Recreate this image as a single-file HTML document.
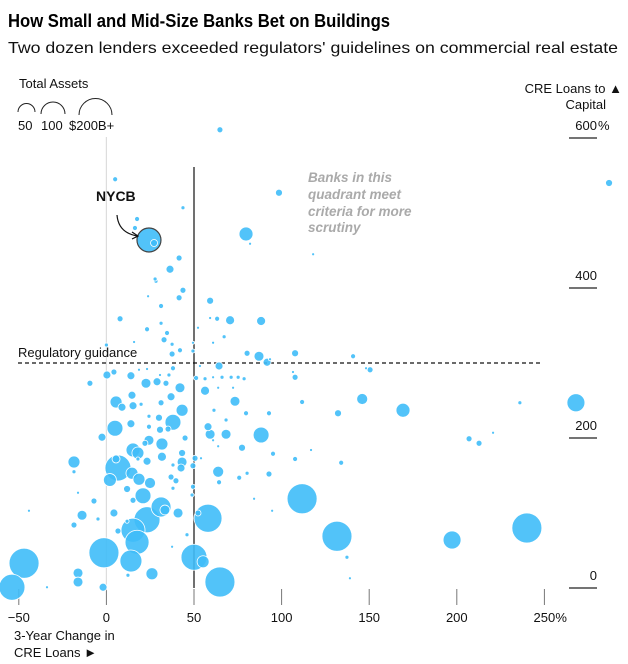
<!DOCTYPE html>
<html><head><meta charset="utf-8"><style>
html,body{margin:0;padding:0;background:#fff;width:628px;height:664px;overflow:hidden}
svg{display:block;font-family:"Liberation Sans",sans-serif}
</style></head><body>
<svg id="chart" width="628" height="664" viewBox="0 0 628 664">
<text x="8" y="27" font-size="18" font-weight="bold" fill="#000" textLength="382" lengthAdjust="spacingAndGlyphs">How Small and Mid-Size Banks Bet on Buildings</text>
<text x="8" y="53" font-size="16" fill="#111" textLength="610" lengthAdjust="spacingAndGlyphs">Two dozen lenders exceeded regulators' guidelines on commercial real estate</text>
<g>
<text x="19" y="88" font-size="13" fill="#111">Total Assets</text>
<path d="M18,112 A8.5,8.5 0 0 1 35,112" fill="none" stroke="#222" stroke-width="1"/>
<path d="M41,114 A12,12 0 0 1 65,114" fill="none" stroke="#222" stroke-width="1"/>
<path d="M79,115 A16.5,16.5 0 0 1 112,115" fill="none" stroke="#222" stroke-width="1"/>
<text x="18" y="130" font-size="13" fill="#111">50</text>
<text x="41" y="130" font-size="13" fill="#111">100</text>
<text x="69" y="130" font-size="13" fill="#111">$200B+</text>
</g>
<text x="622" y="93" font-size="13" fill="#111" text-anchor="end">CRE Loans to ▲</text>
<text x="606" y="109" font-size="13" fill="#111" text-anchor="end">Capital</text>
<g id="axes"></g>
<g id="marks"></g>
<text x="18" y="357" font-size="13" fill="#111">Regulatory guidance</text>
<g font-size="13.5" font-style="italic" font-weight="bold" fill="#aaa">
<text x="308" y="182">Banks in this</text>
<text x="308" y="199">quadrant meet</text>
<text x="308" y="216">criteria for more</text>
<text x="308" y="232">scrutiny</text>
</g>
<text x="96" y="201" font-size="14" font-weight="bold" fill="#111">NYCB</text>
<path d="M117,215 C118,228 126,234 137,236" fill="none" stroke="#111" stroke-width="1.2"/>
<path d="M132,232 L138,236 L132,239" fill="none" stroke="#111" stroke-width="1.2"/>
<text x="14" y="640" font-size="13" fill="#111">3-Year Change in</text>
<text x="14" y="657" font-size="13" fill="#111">CRE Loans ►</text>
</svg>
<script>
const xChange=[28.3,43.7,23.8,41.5,59.2,31.2,7.8,70.6,88.3,63.2,59.2,31.2,23.2,52.3,34.6,67.2,32.9,15.8,60.9,0,37.5,49.4,42,49.4,37.5,80.3,87.1,91.7,107.7,64.3,38,53.4,0.3,4.3,14,18.6,23.2,30.6,35.7,-9.4,22.6,28.9,34,42,51.2,56.3,60.9,66,71.2,75.2,78.6,107.7,56.3,63.8,72.3,5.5,8.9,14.6,15.2,19.8,31.2,36.9,73.4,43.2,61.4,79.7,92.8,4.9,14,24.3,30,38,24.3,30.6,35.2,58,59.2,68.3,68.3,88.3,-2.5,24.3,31.7,44.9,15.2,18,22,31.7,43.2,60.9,63.8,77.4,95.1,6.6,-18.5,5.5,23.2,18,43.2,50.6,54,38,49.4,107.7,-18.5,2,14.6,18.6,24.9,36.9,39.7,42.6,63.8,80.3,92.8,75.8,64.3,11.8,20.9,38,49.4,-16.2,-7.1,15.2,31.2,33.4,48.9,84.3,-13.9,4.3,-4.8,40.9,52.3,58,94.6,-44.2,-18.5,11.8,23.2,6.6,15.2,17.5,46,37.5,-1.4,14,-47,50,55.2,-16.2,26,12.3,-16.2,64.8,-53.9,-1.9,-33.9,60.9,140.8,93.4,106.5,148.2,150.5,111.7,146,132.2,169.3,236,268,207,212.7,220.7,116.8,134,111.7,131.6,197.3,240,137.3,139,64.8,5,98.5,43.7,17.5,16.3,24.3,27.2,79.7,82,118,41.5,36.3,27.8,286.9];
const creRatio=[409,397,389,387,383,376,359,357,356,359,360,353,345,347,340,335,331,328,328,324,325,327,317,316,312,313,309,301,313,296,293,296,284,288,283,291,292,284,284,273,273,275,273,267,280,279,281,281,281,281,279,281,263,267,267,248,241,257,243,245,247,255,249,237,237,233,233,213,219,229,227,221,215,211,212,215,205,205,224,204,201,197,192,200,184,180,193,175,180,197,189,187,179,160,168,172,169,172,168,173,173,164,163,172,155,144,153,145,140,148,143,160,155,153,152,147,141,132,123,133,135,127,116,117,108,104,124,119,97,100,92,100,100,93,103,103,84,89,91,76,77,61,71,55,47,36,33,41,35,20,19,17,8,8,1,1,1,327,309,305,288,293,291,248,252,233,237,247,247,199,193,207,184,167,119,69,64,80,41,13,611,545,527,507,492,480,464,460,472,459,445,440,425,412,540];
const totalAssets=[2.8,6.2,1.6,6.2,8.5,4.3,6.2,14,14,4.3,1.6,2.8,4.3,1.6,4.3,2.8,6.2,1.6,1.6,2.8,2.8,1.6,4.3,2.8,6.2,6.2,17,11,8.5,11,4.3,1.6,11,6.2,11,1.6,1.6,1.6,2.8,6.2,17,11,6.2,17,4.3,2.8,1.6,2.8,2.8,2.8,2.8,6.2,14,1.6,1.6,25,11,11,11,2.8,6.2,11,17,25,2.8,4.3,4.3,44,11,2.8,8.5,44,4.3,8.5,6.2,11,17,17,2.8,44,11,17,25,6.2,34,25,6.2,14,8.5,1.6,1.6,8.5,4.3,117,25,11,11,2.8,17,6.2,1.6,2.8,6.2,4.3,2.8,29,25,25,21,6.2,6.2,11,21,2.8,6.2,4.3,4.3,8.5,44,2.8,4.3,1.6,6.2,6.2,69,17,2.8,1.6,17,11,2.8,17,6.2,136,1.6,1.6,6.2,2.8,117,6.2,100,100,2.8,1.6,156,84,156,117,25,17,25,2.8,17,156,117,11,1.6,1.6,4.3,1.6,1.6,1.6,6.2,4.3,21,8.5,34,2.8,56,6.2,6.2,1.6,1.6,4.3,156,156,56,156,2.8,1.6,6.2,4.3,8.5,2.8,4.3,4.3,100,8.5,34,1.6,1.6,6.2,11,2.8,8.5];
const nycbIndex=186;
const xTicks=[-50,0,50,100,150,200,250];
const yTicks=[0,200,400,600];
const guidance=300;

const NS="http://www.w3.org/2000/svg";
const xS=v=>106.4+v*1.752;
const yS=v=>588-v*0.75;
const rS=a=>1.2*Math.sqrt(a);
function mk(tag,attrs,parent){const e=document.createElementNS(NS,tag);for(const k in attrs)e.setAttribute(k,attrs[k]);parent.appendChild(e);return e;}
const axes=document.getElementById('axes');
const marks=document.getElementById('marks');

const zl=mk('line',{x1:xS(0),x2:xS(0),y1:137,y2:yS(0),stroke:'#ddd','stroke-width':1.2},axes);



xTicks.forEach(t=>{
  const tk=mk('line',{x1:xS(t),x2:xS(t),y1:589,y2:605,stroke:'#777','stroke-width':1},axes);
  
  
  const tx=mk('text',{x:xS(t),y:622,'font-size':13,fill:'#111','text-anchor':'middle'},axes);
  tx.textContent=String(t).replace('-','\u2212');
  
  
  if(t===xTicks[xTicks.length-1]){
    const p=mk('text',{x:xS(t)+11,y:622,'font-size':13,fill:'#111'},axes);
    p.textContent='%';
    
    
  }
});
yTicks.forEach(t=>{
  const tk=mk('line',{x1:569,x2:597,y1:yS(t),y2:yS(t),stroke:'#222','stroke-width':1.2},axes);
  
  
  const tx=mk('text',{x:597,y:yS(t)-8,'font-size':13,fill:'#111','text-anchor':'end'},axes);
  tx.textContent=String(t);
  
  
  if(t===yTicks[yTicks.length-1]){
    const p=mk('text',{x:598,y:yS(t)-8,'font-size':13,fill:'#111'},axes);
    p.textContent='%';
    
    
  }
});
const gl=mk('line',{x1:18,x2:543,y1:yS(guidance),y2:yS(guidance),stroke:'#111','stroke-width':1.2,'stroke-dasharray':'4,3'},axes);


const vl=mk('line',{x1:xS(50),x2:xS(50),y1:167,y2:yS(0),stroke:'#111','stroke-width':1.2},axes);



const order=xChange.map((_,i)=>i).sort((a,b)=>totalAssets[b]-totalAssets[a]);
order.forEach(i=>{
  const c=mk('circle',{cx:xS(xChange[i]),cy:yS(creRatio[i]),r:rS(totalAssets[i]),fill:'#3fbdf8','fill-opacity':0.9,stroke:i===nycbIndex?'#444':'#fff','stroke-width':i===nycbIndex?1.2:0.8},marks);
  
  
});
</script>
</body></html>
